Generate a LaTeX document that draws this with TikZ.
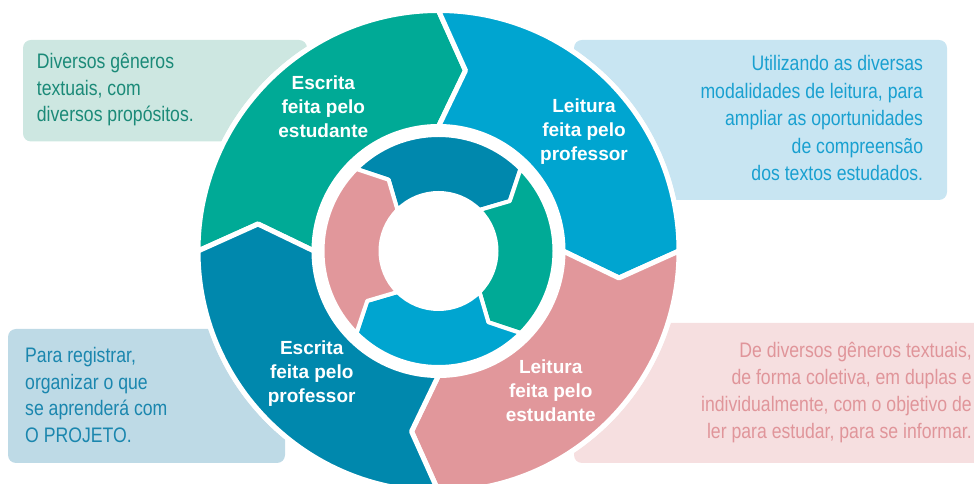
\documentclass[tikz,border=0pt]{standalone}
\usepackage{fontspec}
\setmainfont{Liberation Sans}
\newfontfamily\narrowfont[FakeStretch=0.84]{Liberation Sans}
\definecolor{cycGreen}{HTML}{00AA96}
\definecolor{cycBlue}{HTML}{00A5D0}
\definecolor{cycTeal}{HTML}{0088AD}
\definecolor{cycPink}{HTML}{E1979B}
\definecolor{boxGreen}{HTML}{CDE7E1}
\definecolor{boxBlue}{HTML}{C8E5F2}
\definecolor{boxTeal}{HTML}{BEDAE6}
\definecolor{boxPink}{HTML}{F6DFE0}
\definecolor{txtGreen}{HTML}{1B8A78}
\definecolor{txtBlue}{HTML}{19A0D0}
\definecolor{txtTeal}{HTML}{1A86AE}
\definecolor{txtPink}{HTML}{E0959A}
% one arrow piece of a ring: colour, start angle, inner r, middle r, outer r, tip offset
\newcommand{\ringpart}[7]{%
  \path[partfill=#1, line width=#7]
    (#2:#5pt) arc[start angle=#2, end angle=#2-90, radius=#5pt]
    -- (#2-90-#6:#4pt) -- (#2-90:#3pt)
    arc[start angle=#2-90, end angle=#2, radius=#3pt]
    -- (#2-#6:#4pt) -- cycle;}
\tikzset{
  partfill/.style={fill=#1, draw=white, line join=round},
  infobox/.style={fill=#1, rounded corners=8pt},
  infotext/.style={font=\narrowfont\fontsize{21}{26.8}\selectfont, inner sep=0pt},
  partlabel/.style={text=white, font=\bfseries\fontsize{19}{24}\selectfont, align=center, inner sep=0pt},
}

\begin{document}
\begin{tikzpicture}[x=1pt, y=1pt]
  \useasboundingbox (0,0) rectangle (974,484);

  % boxes behind the cycle
  \fill[infobox=boxGreen] (23,342.5) rectangle (307,444);
  \fill[infobox=boxBlue] (574,284) rectangle (947,444);
  \fill[infobox=boxTeal] (8,21) rectangle (285,155);
  \fill[infobox=boxPink] (574,21) rectangle (1000,161);

  \node[infotext, text=txtGreen, anchor=west, align=left] (txtA) at (36.7,394.4)
    {Diversos gêneros\\textuais, com\\diversos propósitos.};
  \node[infotext, text=txtBlue, anchor=east, align=right, font=\narrowfont\fontsize{21}{27.5}\selectfont] (txtB) at (923.3,365.7)
    {Utilizando as diversas\\modalidades de leitura, para\\ampliar as oportunidades\\de compreensão\\dos textos estudados.};
  \node[infotext, text=txtTeal, anchor=west, align=left] (txtC) at (25,89)
    {Para registrar,\\organizar o que\\se aprenderá com\\O PROJETO.};
  \node[infotext, text=txtPink, anchor=east, align=right] (txtD) at (972,91.5)
    {De diversos gêneros textuais,\\de forma coletiva, em duplas e\\individualmente, com o objetivo de\\ler para estudar, para se informar.};

  \begin{scope}[shift={(438.5,233)}]
    \fill[white] (0,0) circle[radius=243pt];
    % outer ring
    \ringpart{cycGreen}{180}{124.5}{182.5}{240.5}{8.5}{5pt}
    \ringpart{cycBlue}{90}{124.5}{182.5}{240.5}{8.5}{5pt}
    \ringpart{cycPink}{0}{124.5}{182.5}{240.5}{8.5}{5pt}
    \ringpart{cycTeal}{-90}{124.5}{182.5}{240.5}{8.5}{5pt}
    % inner ring
    \ringpart{cycTeal}{135}{58}{87}{116}{10}{4pt}
    \ringpart{cycGreen}{45}{58}{87}{116}{10}{4pt}
    \ringpart{cycBlue}{-45}{58}{87}{116}{10}{4pt}
    \ringpart{cycPink}{-135}{58}{87}{116}{10}{4pt}
  \end{scope}

  \node[partlabel] (escEst) at (323.3,376.8) {Escrita\\feita pelo\\estudante};
  \node[partlabel] (leiProf) at (584,352.8) {Leitura\\feita pelo\\professor};
  \node[partlabel] (escProf) at (311.7,110.7) {Escrita\\feita pelo\\professor};
  \node[partlabel] (leiEst) at (550.7,92.8) {Leitura\\feita pelo\\estudante};
\end{tikzpicture}
\end{document}
